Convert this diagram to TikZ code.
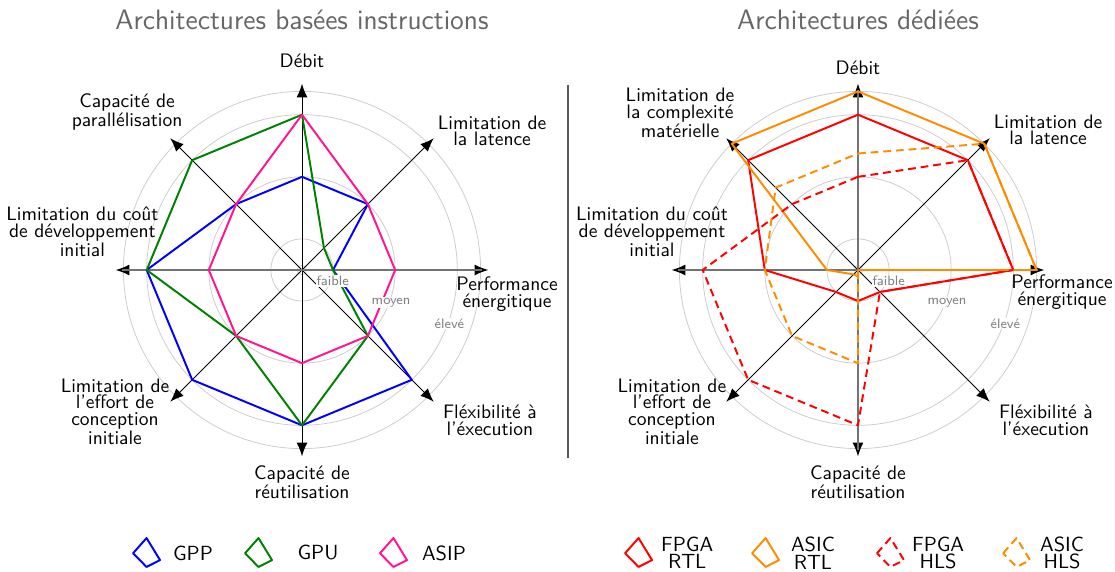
\documentclass[tikz,border=0pt]{standalone}
\usetikzlibrary{arrows.meta}
\definecolor{rose}{RGB}{255,20,147}
\definecolor{vert}{RGB}{0,128,0}
\definecolor{orangef}{RGB}{255,140,0}
\newcommand{\etiq}{\sffamily\fontsize{10}{8.6}\selectfont}
\begin{document}
\begin{tikzpicture}[x=0.56cm,y=0.56cm,>={Latex[length=7pt,width=5.5pt]},line join=round,
	grille/.style={gray!40,line width=0.4pt},
	axe/.style={->,line width=0.5pt},
	diam/.style={black!55,line width=0.8pt},
	niveau/.style={font=\sffamily\scriptsize,text=gray,fill=white,inner sep=0.5pt},
	titre/.style={font=\sffamily\Large,text=black!60},
	lbl/.style={font=\etiq,align=center,inner sep=0pt},
	leg/.style={font=\sffamily\fontsize{10.5}{9}\selectfont,align=center,inner sep=0pt},
	serie/.style={line width=1pt},
	gpp/.style={serie,color=blue},
	gpu/.style={serie,color=vert},
	asip/.style={serie,color=rose},
	fpga/.style={serie,color=red},
	asic/.style={serie,color=orangef},
	hls/.style={dash pattern=on 4pt off 2.5pt},
	icone/.pic={\draw (0,0.44) -- (0.435,0.93) -- (0.87,0.22) -- (0.435,0) -- cycle;}]
	\useasboundingbox (-9.723,-9.723) rectangle (26.175,8.693);

	% architectures basees instructions
	\node[titre] (t1) at (0,8.05) {Architectures basées instructions};
	\foreach \r in {0.15,1,3,5,5.75} \draw[grille] (0,0) circle (\r);
	\foreach \a in {90,45,0,-45,-90,-135,180,135} \draw[axe] (0,0) -- (\a:6);
	\draw[diam] (-5.8,0) -- (5.8,0);
	\node[lbl] (a1) at (0,6.73) {Débit};
	\node[lbl] (a2) at (6.12,4.48) {Limitation de\\la latence};
	\node[lbl] (a3) at (6.6,-0.77) {Performance\\énergitique};
	\node[lbl] (a4) at (6.05,-4.83) {Fléxibilité à\\l’éxecution};
	\node[lbl] (a5) at (0,-6.83) {Capacité de\\réutilisation};
	\node[lbl] (a6) at (-6.02,-4.57) {Limitation de\\l’effort de\\conception\\initiale};
	\node[lbl] (a7) at (-7.07,1.22) {Limitation du coût\\de développement\\initial};
	\node[lbl] (a8) at (-5.63,5.09) {Capacité de\\parallélisation};
	\draw[gpp] (90:3) -- (45:3) -- (0:1) -- (-45:5) -- (-90:5) -- (-135:5) -- (180:5) -- (135:3) -- cycle;
	\draw[gpu] (90:5) -- (45:1) -- (0:1) -- (-45:3) -- (-90:5) -- (-135:3) -- (180:5) -- (135:5) -- cycle;
	\draw[asip] (90:5) -- (45:3) -- (0:3) -- (-45:3) -- (-90:3) -- (-135:3) -- (180:3) -- (135:3) -- cycle;
	\node[niveau] (n1) at (-20:1.05) {faible};
	\node[niveau] (n2) at (-20:3.05) {moyen};
	\node[niveau] (n3) at (-20:5.05) {élevé};
	\pic[gpp] at (-5.44,-9.56) {icone};
	\node[leg] (l1) at (-3.51,-9.11) {GPP};
	\pic[gpu] at (-1.835,-9.56) {icone};
	\node[leg] (l2) at (0.515,-9.11) {GPU};
	\pic[asip] at (2.51,-9.56) {icone};
	\node[leg] (l3) at (4.57,-9.11) {ASIP};

	\draw[black!65,line width=1pt] (8.56,5.96) -- (8.56,-6.05);

	% architectures dediees
	\begin{scope}[shift={(17.9,0)}]
	\node[titre] (t2) at (0,8.05) {Architectures dédiées};
	\foreach \r in {0.15,1,3,5,5.75} \draw[grille] (0,0) circle (\r);
	\foreach \a in {90,45,0,-45,-90,-135,180,135} \draw[axe] (0,0) -- (\a:6);
	\draw[diam] (-5.8,0) -- (5.8,0);
	\draw[diam] (0,-5.8) -- (0,5.8);
	\node[lbl] (b1) at (0,6.5) {Débit};
	\node[lbl] (b2) at (6.12,4.51) {Limitation de\\la latence};
	\node[lbl] (b3) at (6.57,-0.71) {Performance\\énergitique};
	\node[lbl] (b4) at (6.05,-4.83) {Fléxibilité à\\l’éxecution};
	\node[lbl] (b5) at (0,-6.83) {Capacité de\\réutilisation};
	\node[lbl] (b6) at (-5.99,-4.57) {Limitation de\\l’effort de\\conception\\initiale};
	\node[lbl] (b7) at (-6.63,1.22) {Limitation du coût\\de développement\\initial};
	\node[lbl] (b8) at (-5.73,5.05) {Limitation de\\la complexité\\matérielle};
	\draw[fpga] (90:5) -- (45:5) -- (0:5) -- (-45:1) -- (-90:1) -- (-135:1) -- (180:3) -- (135:5) -- cycle;
	\draw[asic] (90:5.75) -- (45:5.75) -- (0:5.75) -- (0,0) -- (-90:0.2) -- (-135:0.2) -- (180:1) -- (135:5.75) -- cycle;
	\draw[fpga,hls] (90:3) -- (45:5) -- (0:5) -- (-45:1) -- (-90:5) -- (-135:5) -- (180:5) -- (135:3) -- cycle;
	\draw[asic,hls] (90:3.75) -- (45:5.75) -- (0:5.75) -- (0,0) -- (-90:3) -- (-135:3) -- (180:3) -- (135:3.75) -- cycle;
	\node[niveau] (m1) at (-20:1.05) {faible};
	\node[niveau] (m2) at (-20:3.05) {moyen};
	\node[niveau] (m3) at (-20:5.05) {élevé};
	\pic[fpga] at (-7.5,-9.56) {icone};
	\node[leg] (k1) at (-5.5,-9.11) {FPGA\\RTL};
	\pic[asic] at (-3.41,-9.56) {icone};
	\node[leg] (k2) at (-1.45,-9.11) {ASIC\\RTL};
	\pic[fpga,hls] at (0.61,-9.56) {icone};
	\node[leg] (k3) at (2.58,-9.11) {FPGA\\HLS};
	\pic[asic,hls] at (4.67,-9.56) {icone};
	\node[leg] (k4) at (6.57,-9.11) {ASIC\\HLS};
	\end{scope}
\end{tikzpicture}
\end{document}
